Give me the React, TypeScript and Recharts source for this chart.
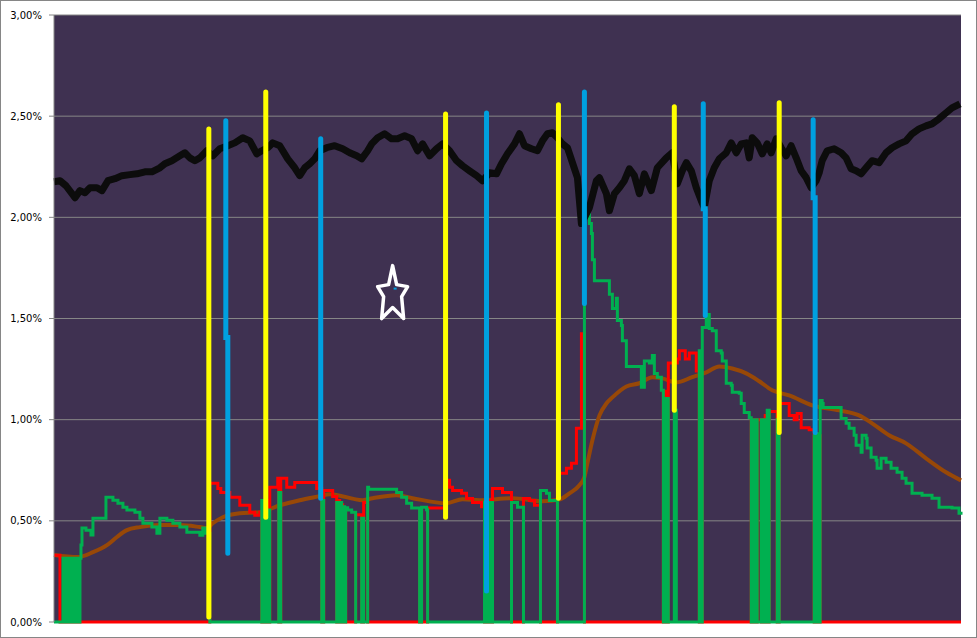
import React from "react";
import { ComposedChart, Line, XAxis, YAxis, CartesianGrid } from "recharts";

type Pt = [number, number];

const yTicks = [0, 0.5, 1, 1.5, 2, 2.5, 3];

// black: main rate series (%)
const spread: Pt[] = [
  [0, 2.176], [6, 2.181], [12, 2.156], [21, 2.097], [26, 2.132], [31, 2.122], [36, 2.146], [43, 2.146], [48, 2.132],
  [54, 2.181], [61, 2.191], [68, 2.206], [76, 2.211], [83, 2.215], [91, 2.225], [98, 2.225], [106, 2.245], [111, 2.265],
  [118, 2.28], [126, 2.304], [131, 2.319], [136, 2.294], [141, 2.28], [146, 2.294], [153, 2.329], [159, 2.304], [166, 2.339],
  [174, 2.354], [181, 2.368], [189, 2.393], [196, 2.378], [203, 2.314], [208, 2.329], [214, 2.344], [219, 2.368], [226, 2.354],
  [234, 2.289], [241, 2.245], [246, 2.206], [251, 2.245], [256, 2.265], [261, 2.289], [266, 2.329], [273, 2.344], [281, 2.354],
  [289, 2.339], [296, 2.319], [303, 2.304], [308, 2.289], [314, 2.329], [318, 2.363], [324, 2.393], [331, 2.413], [338, 2.388],
  [344, 2.388], [351, 2.403], [358, 2.388], [364, 2.329], [369, 2.363], [376, 2.304], [383, 2.339], [389, 2.363], [396, 2.329],
  [403, 2.28], [409, 2.255], [416, 2.23], [423, 2.206], [429, 2.181], [436, 2.22], [443, 2.215], [448, 2.265], [454, 2.314],
  [461, 2.363], [466, 2.413], [471, 2.354], [478, 2.339], [484, 2.329], [489, 2.378], [494, 2.413], [499, 2.418], [504, 2.393],
  [509, 2.363], [514, 2.344], [519, 2.27], [524, 2.196], [528, 1.969], [536, 2.048], [543, 2.181], [546, 2.196], [553, 2.117],
  [556, 2.033], [561, 2.117], [566, 2.146], [571, 2.181], [576, 2.24], [581, 2.206], [586, 2.117], [591, 2.215], [598, 2.132],
  [604, 2.245], [613, 2.294], [619, 2.319], [624, 2.166], [629, 2.23], [633, 2.27], [638, 2.23], [643, 2.146], [648, 2.082],
  [651, 2.048], [656, 2.181], [661, 2.245], [666, 2.289], [673, 2.319], [678, 2.368], [683, 2.319], [688, 2.363], [693, 2.368],
  [696, 2.294], [699, 2.393], [704, 2.368], [709, 2.314], [714, 2.363], [718, 2.319], [723, 2.388], [728, 2.344], [733, 2.304],
  [738, 2.354], [743, 2.294], [748, 2.23], [753, 2.196], [758, 2.146], [763, 2.181], [766, 2.22], [769, 2.28], [774, 2.329],
  [781, 2.339], [788, 2.319], [793, 2.294], [798, 2.24], [803, 2.23], [808, 2.215], [813, 2.245], [819, 2.28], [826, 2.27],
  [833, 2.319], [839, 2.344], [846, 2.363], [853, 2.378], [859, 2.413], [866, 2.437], [873, 2.452], [879, 2.462], [886, 2.487],
  [893, 2.516], [899, 2.541], [907, 2.561],
];

// brown: smoothed average
const average: Pt[] = [
  [0, 0.331], [24, 0.321], [39, 0.345], [53, 0.38], [63, 0.42], [73, 0.454], [86, 0.469], [106, 0.479], [126, 0.479],
  [146, 0.469], [153, 0.464], [159, 0.488], [169, 0.518], [186, 0.538], [206, 0.543], [226, 0.577], [246, 0.602], [266, 0.622],
  [276, 0.632], [309, 0.602], [319, 0.612], [343, 0.627], [359, 0.612], [393, 0.587], [409, 0.607], [426, 0.602], [459, 0.612],
  [489, 0.597], [506, 0.605], [516, 0.636], [526, 0.676], [531, 0.716], [534, 0.785], [539, 0.898], [546, 1.02], [553, 1.08],
  [559, 1.11], [573, 1.164], [586, 1.18], [599, 1.21], [609, 1.204], [623, 1.184], [639, 1.21], [653, 1.234], [666, 1.263],
  [679, 1.253], [693, 1.229], [706, 1.19], [719, 1.145], [736, 1.12], [759, 1.071], [786, 1.046], [806, 1.021], [819, 0.982],
  [836, 0.923], [853, 0.883], [873, 0.809], [893, 0.74], [908, 0.7],
];

// green: value while in regime A, 0 otherwise
const regimeA: Pt[] = [
  [0, 0], [9, 0.315], [12, 0], [14, 0.315], [16, 0], [18, 0.315], [20, 0], [22, 0.315], [24, 0], [26, 0.315], [27, 0.38],
  [28, 0.464], [32, 0.454], [37, 0.43], [39, 0.513], [52, 0.617], [59, 0.602], [64, 0.587], [69, 0.567], [73, 0.553],
  [81, 0.543], [86, 0.513], [89, 0.488], [98, 0.469], [103, 0.439], [106, 0.513], [113, 0.503], [119, 0.488], [126, 0.469],
  [133, 0.444], [146, 0.429], [149, 0.464], [152, 0.439], [156, 0],
  [208, 0.6], [210, 0], [211, 0.58], [212, 0], [214, 0.553], [216, 0], [225, 0.64], [227, 0], [268, 0.6], [270, 0],
  [283, 0.59], [285, 0], [286, 0.59], [288, 0], [289, 0.57], [291, 0], [292, 0.565], [294, 0.553], [298, 0.543], [302, 0],
  [308, 0.513], [310, 0], [314, 0.666], [315, 0.656], [343, 0.64], [348, 0.617], [353, 0.587], [358, 0.563], [366, 0],
  [368, 0.567], [373, 0.555], [374, 0], [431, 0.59], [433, 0], [434, 0.59], [436, 0], [437, 0.59], [439, 0],
  [458, 0.59], [464, 0.567], [470, 0], [487, 0.65], [493, 0.636], [496, 0.6], [504, 0],
  [531, 2.03], [536, 1.97], [538, 1.92], [539, 1.79], [541, 1.687], [556, 1.62], [559, 1.55], [563, 1.6], [564, 1.49],
  [568, 1.465], [569, 1.39], [573, 1.263], [588, 1.16], [591, 1.29], [596, 1.28], [599, 1.317], [601, 1.228], [604, 1.21],
  [608, 1.145], [610, 0], [613, 1.105], [615, 0], [621, 1.046], [623, 0],
  [646, 1.34], [648, 0], [649, 1.455], [653, 1.52], [656, 1.45], [659, 1.44], [663, 1.34], [668, 1.33], [669, 1.29],
  [673, 1.18], [678, 1.17], [679, 1.135], [686, 1.13], [688, 1.08], [691, 1.036], [696, 1.01], [698, 0], [699, 1.0],
  [701, 0], [702, 1.0], [704, 0], [708, 1.0], [710, 0], [711, 1.0], [712, 0], [714, 1.046], [716, 0], [724, 1.0], [726, 0],
  [761, 0.92], [763, 0], [764, 0.93], [766, 0], [767, 1.095], [769, 1.08], [770, 1.06], [786, 1.06], [788, 1.006],
  [793, 0.982], [796, 0.957], [801, 0.923], [803, 0.873], [808, 0.839], [809, 0.923], [813, 0.908], [814, 0.86],
  [818, 0.814], [823, 0.8], [824, 0.76], [828, 0.809], [833, 0.79], [838, 0.76], [844, 0.74], [849, 0.71], [853, 0.686],
  [859, 0.636], [869, 0.627], [879, 0.612], [886, 0.567], [899, 0.563], [906, 0.538], [908, 0.53],
];

// red: value while in regime B, 0 otherwise
const regimeB: Pt[] = [
  [0, 0.33], [6, 0], [156, 0.686], [164, 0.66], [167, 0.64], [176, 0.617], [186, 0.577], [196, 0.543], [201, 0.528],
  [206, 0.543], [208, 0], [210, 0.55], [211, 0], [212, 0.6], [214, 0], [216, 0.666], [224, 0.71], [225, 0], [227, 0.71],
  [233, 0.666], [241, 0.69], [263, 0.66], [268, 0], [270, 0.65], [279, 0.62], [283, 0], [285, 0.6], [286, 0], [288, 0.58],
  [289, 0], [291, 0.56], [292, 0], [302, 0.53], [308, 0], [310, 0.59], [314, 0], [366, 0.56], [368, 0], [374, 0.563],
  [391, 0.7], [396, 0.666], [399, 0.65], [408, 0.636], [413, 0.61], [419, 0.59], [428, 0.57], [431, 0], [433, 0.6],
  [434, 0], [436, 0.6], [437, 0], [439, 0.66], [449, 0.64], [458, 0], [470, 0.61], [476, 0.6], [481, 0.577], [487, 0],
  [504, 0.735], [513, 0.76], [518, 0.785], [523, 0.957], [528, 1.425], [531, 0], [610, 1.14], [613, 0], [615, 1.28],
  [624, 1.3], [626, 1.34], [632, 1.3], [636, 1.33], [643, 1.24], [646, 0], [648, 1.2], [649, 0],
  [698, 1.0], [699, 0], [701, 1.0], [702, 0], [704, 1.0], [708, 0], [710, 1.0], [711, 0], [712, 1.02], [714, 0],
  [716, 1.04], [724, 0], [726, 1.08], [736, 1.02], [741, 1.0], [744, 1.03], [748, 0.96], [756, 0.95], [761, 0],
  [763, 0.93], [764, 0], [766, 0.92], [767, 0], [908, 0],
];

// signal bars: [day, low %, high %, break %?]
const entrySignals: [number, number, number][] = [
  [155, 0.025, 2.437], [212, 0.518, 2.62], [392, 0.518, 2.511], [505, 0.612, 2.556], [621, 1.046, 2.546], [726, 0.937, 2.566],
];
const exitSignals: [number, number, number, number?][] = [
  [173, 0.34, 2.477, 1.406], [267, 0.612, 2.388], [433, 0.153, 2.516], [531, 1.574, 2.62], [651, 1.515, 2.561, 2.043],
  [761, 0.937, 2.482, 2.097],
];

const marker: Pt[] = [[339, 1.628]];

const rows = (pts: Pt[]) => pts.map(([x, v]) => ({ x, v }));

function barRows(b: [number, number, number, number?]) {
  const [x, lo, hi, jog] = b;
  if (jog === undefined) return [{ x, v: lo }, { x, v: hi }];
  return [{ x: x + 1, v: lo }, { x: x + 1, v: jog }, { x: x - 1, v: jog }, { x: x - 1, v: hi }];
}

const fmt = (v: number) => v.toFixed(2).replace(".", ",") + "%";

function StarMark({ cx, cy }: { cx: number; cy: number }) {
  const p = [
    [0, -27], [4, -8], [15, -6], [9, 4], [11, 26], [0, 15], [-11, 26], [-9, 4], [-15, -6], [-4, -8],
  ].map(([dx, dy]) => `${cx + dx},${cy + dy}`).join(" ");
  return (
    <g>
      <polygon points={p} fill="none" stroke="#ffffff" strokeWidth={3.5} strokeLinejoin="round" />
      <line x1={cx + 1} y1={cy - 4} x2={cx + 4} y2={cy - 4} stroke="#00a0e0" strokeWidth={2} />
    </g>
  );
}

export default function App() {
  return (
    <div style={{ position: "absolute", left: 0, top: 0, width: 977, height: 638, background: "#fff" }}>
      <ComposedChart width={977} height={638} margin={{ top: 15, right: 16, bottom: 16, left: 0 }}>
        <CartesianGrid vertical={false} stroke="#868686" fill="#3f3151" />
        <XAxis type="number" dataKey="x" domain={[0, 908]} hide />
        <YAxis
          type="number"
          domain={[0, 3]}
          ticks={yTicks}
          interval={0}
          tickFormatter={fmt}
          width={54}
          tickSize={5}
          tickMargin={7}
          axisLine={{ stroke: "#868686" }}
          tickLine={{ stroke: "#868686" }}
          tick={{ fontSize: 10, fontFamily: "DejaVu Sans", fill: "#000" }}
        />
        <Line data={rows(average)} dataKey="v" type="monotone" stroke="#984807" strokeWidth={4} dot={false} activeDot={false} isAnimationActive={false} />
        <Line data={rows(regimeB)} dataKey="v" type="stepAfter" stroke="#ff0000" strokeWidth={3} dot={false} activeDot={false} isAnimationActive={false} />
        <Line data={rows(regimeA)} dataKey="v" type="stepAfter" stroke="#00b050" strokeWidth={3} dot={false} activeDot={false} isAnimationActive={false} />
        <Line data={rows(spread)} dataKey="v" type="linear" stroke="#0c0c0c" strokeWidth={7} strokeLinejoin="round" dot={false} activeDot={false} isAnimationActive={false} />
        {entrySignals.map((b, i) => (
          <Line key={"e" + i} data={barRows(b)} dataKey="v" type="linear" stroke="#ffff00" strokeWidth={5} strokeLinecap="round" dot={false} activeDot={false} isAnimationActive={false} />
        ))}
        {exitSignals.map((b, i) => (
          <Line key={"x" + i} data={barRows(b)} dataKey="v" type="linear" stroke="#00a0e0" strokeWidth={5} strokeLinecap="round" dot={false} activeDot={false} isAnimationActive={false} />
        ))}
        <Line
          data={rows(marker)}
          dataKey="v"
          stroke="none"
          dot={(p: any) => <StarMark key={"star" + p.index} cx={p.cx} cy={p.cy} />}
          activeDot={false}
          isAnimationActive={false}
        />
      </ComposedChart>
      <div style={{ position: "absolute", inset: 0, border: "1px solid #868686", pointerEvents: "none" }} />
    </div>
  );
}
